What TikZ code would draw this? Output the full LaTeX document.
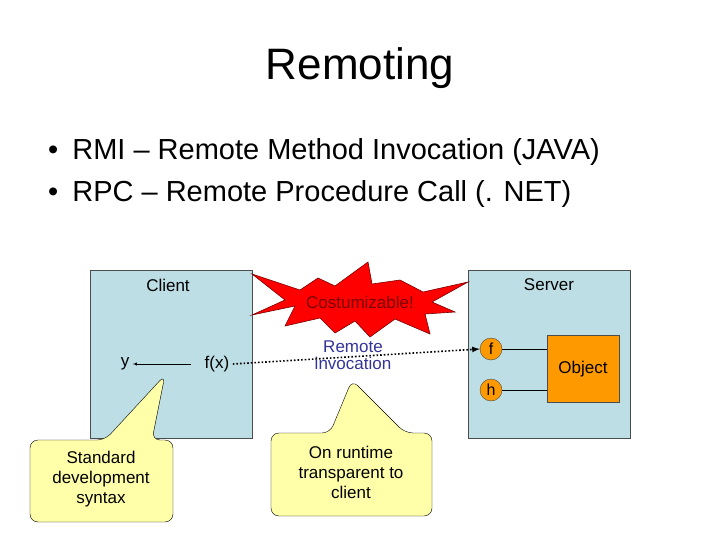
\documentclass[tikz,border=0pt]{standalone}
\usepackage{fontspec}
\setmainfont{Liberation Sans}
\begin{document}
\begin{tikzpicture}[x=1pt,y=-1pt,
  box/.style={draw=black!70,fill=boxc},
  callout/.style={draw=black,fill=calc,rounded corners=8pt},
  port/.style={circle,draw=black!70,fill=objc,minimum size=22pt,inner sep=0pt,font=\fontsize{16}{18}\selectfont},
  lbl/.style={font=\fontsize{17}{20}\selectfont,align=center}]
\definecolor{boxc}{RGB}{188,222,228}
\definecolor{calc}{RGB}{255,255,170}
\definecolor{objc}{RGB}{255,153,0}
\definecolor{invc}{RGB}{51,51,153}
\definecolor{starc}{RGB}{255,0,0}
\definecolor{startx}{RGB}{120,0,0}
\useasboundingbox (0,0) rectangle (720,540);
\node (title) at (360,68) {\fontsize{44}{50}\selectfont Remoting};
\node[anchor=west,inner sep=0pt] (b1) at (48,152) {\fontsize{29}{34}\selectfont •\hspace{14pt}RMI – Remote Method Invocation (JAVA)};
\node[anchor=west,inner sep=0pt] (b2) at (48,194) {\fontsize{29}{34}\selectfont •\hspace{14pt}RPC – Remote Procedure Call (. NET)};
% boxes
\draw[box] (90,270) rectangle (252,438);
\draw[box] (468,270) rectangle (630,438);
\node[lbl] (client) at (168,285) {Client};
\node[lbl] (server) at (549,285) {Server};
% star
\draw[draw=startx,fill=starc,line width=0.6pt] (252,274)--(300,290)--(318,278)--(335,286)--(368,262)--(372,284)--(400,280)--(423,292)--(468,282)--(432,302)--(455,312)--(425,314)--(430,334)--(395,319)--(370,337)--(355,321)--(335,333)--(320,318)--(285,326)--(295,306)--(252,315)--(285,300)--cycle;
\node[lbl,text=startx] (cust) at (360,302) {Costumizable!};
% object
\node[draw=black!70,fill=objc,minimum width=72pt,minimum height=67pt,lbl] (obj) at (583,369) {Object};
\node[port] (f) at (491,349) {f};
\node[port] (h) at (491,390) {h};
\draw (f.east) -- (f.east -| obj.west);
\draw (h.east) -- (h.east -| obj.west);
\node[lbl] (y) at (125,364) {y};
\node[lbl] (fx) at (217,364) {f(x)};
\coordinate (ya) at (191,364);
\draw[-latex] (ya) -- (y.east);
\draw[dotted,line width=1.6pt,-latex] (fx.east) -- (f.west);
\node[lbl,text=invc,font=\fontsize{17}{17}\selectfont] (ri) at (353,355) {Remote\\invocation};
% callouts
\draw[callout] (30,440) -- (105,440) -- (165,375) -- (152,440) -- (173,440) -- (173,522) -- (30,522) -- cycle;
\node[lbl] (c1) at (101,479) {Standard\\development\\syntax};
\draw[callout] (271,433) -- (330,433) -- (352,380) -- (405,433) -- (432,433) -- (432,516) -- (271,516) -- cycle;
\node[lbl] (c2) at (351,472) {On runtime\\transparent to\\client};
\end{tikzpicture}
\end{document}
